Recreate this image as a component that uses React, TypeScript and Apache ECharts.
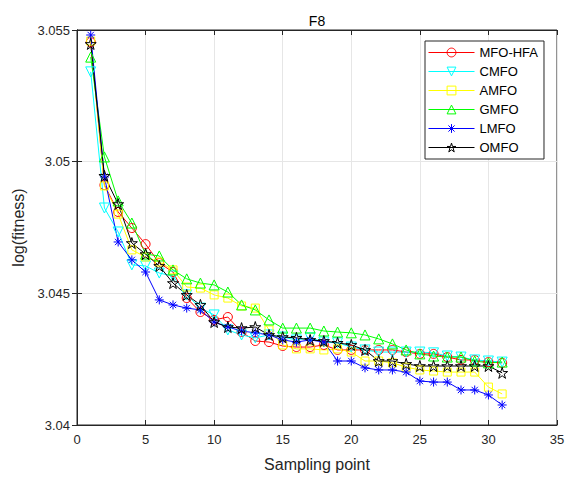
import React, { useEffect, useRef } from "react";
import * as echarts from "echarts";

const samplingPoints = [1, 2, 3, 4, 5, 6, 7, 8, 9, 10, 11, 12, 13, 14, 15, 16, 17, 18, 19, 20, 21, 22, 23, 24, 25, 26, 27, 28, 29, 30, 31];

const mfoHfa = [3.05454, 3.04911, 3.04809, 3.04748, 3.04687, 3.04615, 3.04581, 3.04482, 3.04429, 3.04399, 3.0441, 3.04353, 3.04319, 3.04315, 3.043, 3.04296, 3.04296, 3.04304, 3.04285, 3.04285, 3.04285, 3.04285, 3.04285, 3.04277, 3.0427, 3.0427, 3.04258, 3.04247, 3.04247, 3.04239, 3.04236];
const cmfo = [3.05341, 3.04824, 3.04733, 3.04608, 3.04604, 3.04577, 3.04566, 3.04494, 3.04444, 3.04418, 3.04361, 3.04342, 3.04331, 3.04342, 3.04334, 3.04323, 3.04331, 3.04315, 3.04312, 3.04296, 3.04285, 3.04277, 3.04277, 3.04277, 3.04277, 3.04274, 3.04262, 3.04258, 3.04247, 3.04243, 3.04239];
const amfo = [3.05458, 3.04908, 3.04801, 3.04665, 3.04638, 3.04619, 3.04589, 3.04524, 3.0452, 3.04494, 3.04482, 3.04452, 3.04444, 3.04361, 3.04304, 3.04289, 3.04289, 3.04285, 3.04289, 3.04277, 3.04243, 3.04243, 3.04236, 3.0422, 3.04209, 3.04205, 3.04201, 3.04201, 3.04201, 3.04144, 3.04118];
const gmfo = [3.05397, 3.05018, 3.04851, 3.04767, 3.04649, 3.04642, 3.04589, 3.04555, 3.04539, 3.04532, 3.04505, 3.04456, 3.04437, 3.04399, 3.04368, 3.04368, 3.04368, 3.04357, 3.04353, 3.0435, 3.04342, 3.04327, 3.04308, 3.04285, 3.0427, 3.04262, 3.04258, 3.04258, 3.04243, 3.04236, 3.04239];
const lmfo = [3.05481, 3.04942, 3.04695, 3.04627, 3.04581, 3.04475, 3.04456, 3.04444, 3.04437, 3.04391, 3.04372, 3.04357, 3.0435, 3.04342, 3.04323, 3.04315, 3.04323, 3.04315, 3.04243, 3.04243, 3.04217, 3.04209, 3.04209, 3.04201, 3.04167, 3.04163, 3.04163, 3.04133, 3.04133, 3.04114, 3.04076];
const omfo = [3.05447, 3.04946, 3.04839, 3.04691, 3.04649, 3.04604, 3.04539, 3.04494, 3.04456, 3.04391, 3.04372, 3.04368, 3.04372, 3.04342, 3.04334, 3.04331, 3.04323, 3.04319, 3.04312, 3.04304, 3.04285, 3.04243, 3.04243, 3.04232, 3.04224, 3.04224, 3.04224, 3.04224, 3.04224, 3.04224, 3.04198];

const seriesNames = ["MFO-HFA", "CMFO", "AMFO", "GMFO", "LMFO", "OMFO"];
const xTicks = [0, 5, 10, 15, 20, 25, 30, 35];
const yTicks = [3.04, 3.045, 3.05, 3.055];

const STAR = "path://M50,0L61.17,34.63L97.55,34.55L68.07,55.87L79.39,90.45L50,69L20.61,90.45L31.93,55.87L2.45,34.55L38.83,34.63Z";
const ASTERISK = "path://M50,0L50,100M0,50L100,50M15,15L85,85M15,85L85,15";

const FONT = "Liberation Sans, Arial, Helvetica, sans-serif";

export default function App() {
  const ref = useRef<HTMLDivElement>(null);

  useEffect(() => {
    if (!ref.current) return;
    const chart = echarts.init(ref.current, undefined, { renderer: "svg" });

    const styles = [
      { data: mfoHfa, color: "#FF0000", symbol: "circle", size: 9, rotate: 0 },
      { data: cmfo, color: "#00FFFF", symbol: "triangle", size: 10, rotate: 180 },
      { data: amfo, color: "#FFFF00", symbol: "rect", size: 8, rotate: 0 },
      { data: gmfo, color: "#00FF00", symbol: "triangle", size: 10, rotate: 0 },
      { data: lmfo, color: "#0000FF", symbol: ASTERISK, size: 9, rotate: 0 },
      { data: omfo, color: "#000000", symbol: STAR, size: 11, rotate: 0 },
    ];

    const series = styles.map((s, k) => ({
      name: seriesNames[k],
      type: "line",
      xAxisIndex: 0,
      yAxisIndex: 0,
      data: samplingPoints.map((x, i) => [x, s.data[i]]),
      symbol: s.symbol,
      symbolSize: s.size,
      symbolRotate: s.rotate,
      showAllSymbol: true,
      itemStyle: { color: "rgba(0,0,0,0)", borderColor: s.color, borderWidth: 1 },
      lineStyle: { color: s.color, width: 1 },
      emphasis: { disabled: true },
    }));

    const legendData = styles.map((s, k) => ({
      name: seriesNames[k],
      itemStyle: { color: "rgba(0,0,0,0)", borderColor: s.color, borderWidth: 1 },
      lineStyle: { color: s.color, width: 1 },
    }));

    const yFmt = (v: number) => String(parseFloat(v.toFixed(3)));

    chart.setOption({
      animation: false,
      backgroundColor: "#ffffff",
      graphic: [
        {
          type: "text",
          x: 317,
          y: 21,
          style: { text: "F8", textAlign: "center", textVerticalAlign: "middle", font: `14px ${FONT}`, fill: "#000" },
        },
      ],
      legend: {
        data: legendData,
        orient: "vertical",
        right: 25,
        top: 41,
        itemWidth: 46,
        itemHeight: 11,
        itemGap: 6,
        padding: [5, 6, 5, 3],
        backgroundColor: "#ffffff",
        borderColor: "#262626",
        borderWidth: 1,
        textStyle: { fontFamily: FONT, fontSize: 13, color: "#000" },
      },
      grid: {
        left: 77,
        right: 12,
        top: 30,
        bottom: 52,
        show: true,
        borderColor: "#262626",
        borderWidth: 1,
        backgroundColor: "#ffffff",
      },
      xAxis: [
        {
          type: "value",
          min: xTicks[0],
          max: xTicks[xTicks.length - 1],
          interval: 5,
          name: "Sampling point",
          nameLocation: "middle",
          nameGap: 31,
          nameTextStyle: { fontFamily: FONT, fontSize: 16, color: "#262626" },
          axisLine: { show: true, lineStyle: { color: "#262626" } },
          axisTick: { show: true, inside: true, length: 5, lineStyle: { color: "#262626" } },
          axisLabel: { fontFamily: FONT, fontSize: 13, color: "#262626", margin: 8 },
          splitLine: { show: true, lineStyle: { color: "#e6e6e6", width: 1 } },
        },
        {
          type: "value",
          position: "top",
          min: xTicks[0],
          max: xTicks[xTicks.length - 1],
          interval: 5,
          axisLine: { show: true, lineStyle: { color: "#262626" } },
          axisTick: { show: true, inside: true, length: 5, lineStyle: { color: "#262626" } },
          axisLabel: { show: false },
          splitLine: { show: false },
        },
      ],
      yAxis: [
        {
          type: "value",
          min: yTicks[0],
          max: yTicks[yTicks.length - 1],
          interval: 0.005,
          name: "log(fitness)",
          nameLocation: "middle",
          nameGap: 51,
          nameTextStyle: { fontFamily: FONT, fontSize: 16, color: "#262626" },
          axisLine: { show: true, lineStyle: { color: "#262626" } },
          axisTick: { show: true, inside: true, length: 5, lineStyle: { color: "#262626" } },
          axisLabel: { fontFamily: FONT, fontSize: 13, color: "#262626", margin: 7, formatter: yFmt },
          splitLine: { show: true, lineStyle: { color: "#e6e6e6", width: 1 } },
        },
        {
          type: "value",
          position: "right",
          min: yTicks[0],
          max: yTicks[yTicks.length - 1],
          interval: 0.005,
          axisLine: { show: true, lineStyle: { color: "#262626" } },
          axisTick: { show: true, inside: true, length: 5, lineStyle: { color: "#262626" } },
          axisLabel: { show: false },
          splitLine: { show: false },
        },
      ],
      series,
    });

    return () => chart.dispose();
  }, []);

  return <div ref={ref} style={{ position: "fixed", left: 0, top: 0, width: 569, height: 477 }} />;
}
